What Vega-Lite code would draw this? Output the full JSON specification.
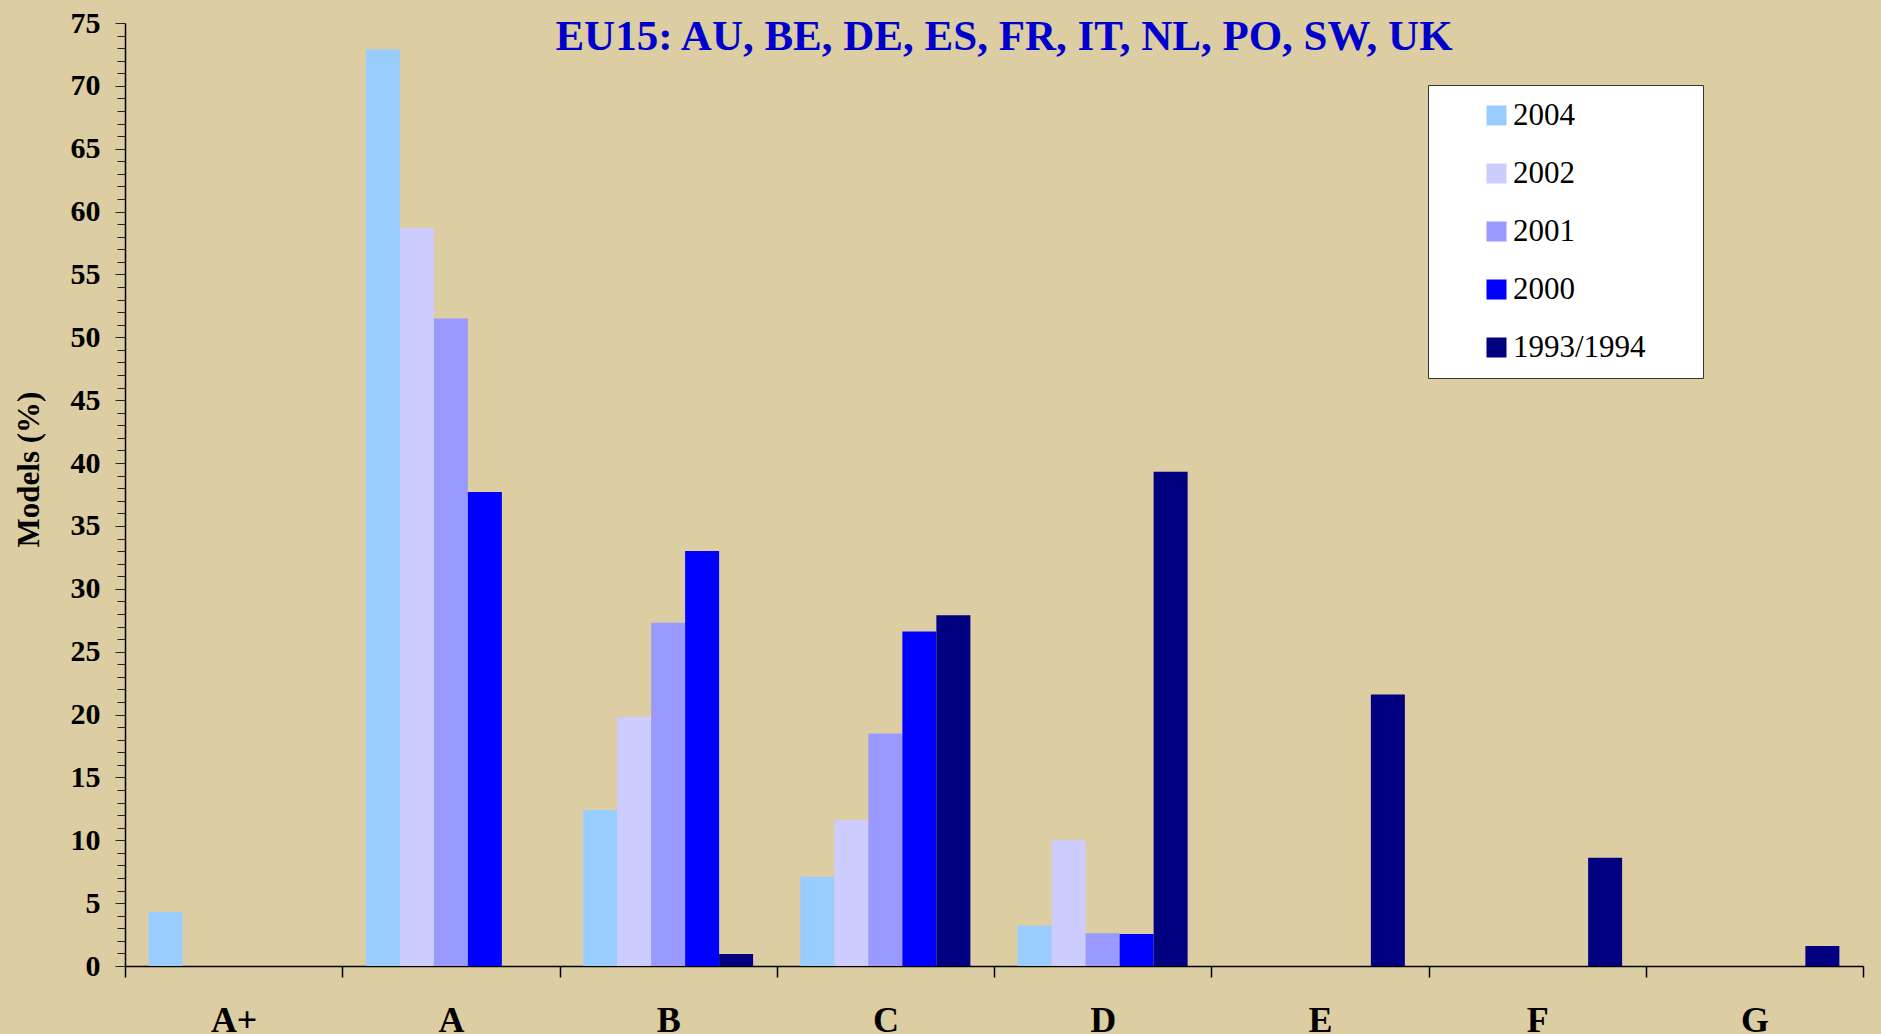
{
  "$schema": "https://vega.github.io/schema/vega-lite/v6.json",
  "width": 1738,
  "height": 943,
  "autosize": {"type": "none"},
  "padding": {"left": 125, "top": 23, "right": 18, "bottom": 68},
  "background": "#DDCDA2",
  "config": {"view": {"stroke": null}, "font": "Liberation Serif"},
  "title": {
    "text": "EU15: AU, BE, DE, ES, FR, IT, NL, PO, SW, UK",
    "font": "Liberation Serif",
    "fontSize": 43,
    "fontWeight": "bold",
    "color": "#0000CC",
    "anchor": "middle",
    "offset": -51,
    "dx": 10
  },
  "data": {
    "values": [
      {"grade": "A+", "year": "2004", "value": 4.3},
      {"grade": "A+", "year": "2002", "value": 0},
      {"grade": "A+", "year": "2001", "value": 0},
      {"grade": "A+", "year": "2000", "value": 0},
      {"grade": "A+", "year": "1993/1994", "value": 0},
      {"grade": "A", "year": "2004", "value": 72.9},
      {"grade": "A", "year": "2002", "value": 58.7},
      {"grade": "A", "year": "2001", "value": 51.5},
      {"grade": "A", "year": "2000", "value": 37.7},
      {"grade": "A", "year": "1993/1994", "value": 0},
      {"grade": "B", "year": "2004", "value": 12.4},
      {"grade": "B", "year": "2002", "value": 19.8},
      {"grade": "B", "year": "2001", "value": 27.3},
      {"grade": "B", "year": "2000", "value": 33.0},
      {"grade": "B", "year": "1993/1994", "value": 0.95},
      {"grade": "C", "year": "2004", "value": 7.1},
      {"grade": "C", "year": "2002", "value": 11.6},
      {"grade": "C", "year": "2001", "value": 18.5},
      {"grade": "C", "year": "2000", "value": 26.6},
      {"grade": "C", "year": "1993/1994", "value": 27.9},
      {"grade": "D", "year": "2004", "value": 3.2},
      {"grade": "D", "year": "2002", "value": 10.0},
      {"grade": "D", "year": "2001", "value": 2.6},
      {"grade": "D", "year": "2000", "value": 2.55},
      {"grade": "D", "year": "1993/1994", "value": 39.3},
      {"grade": "E", "year": "2004", "value": 0},
      {"grade": "E", "year": "2002", "value": 0},
      {"grade": "E", "year": "2001", "value": 0},
      {"grade": "E", "year": "2000", "value": 0},
      {"grade": "E", "year": "1993/1994", "value": 21.6},
      {"grade": "F", "year": "2004", "value": 0},
      {"grade": "F", "year": "2002", "value": 0},
      {"grade": "F", "year": "2001", "value": 0},
      {"grade": "F", "year": "2000", "value": 0},
      {"grade": "F", "year": "1993/1994", "value": 8.6},
      {"grade": "G", "year": "2004", "value": 0},
      {"grade": "G", "year": "2002", "value": 0},
      {"grade": "G", "year": "2001", "value": 0},
      {"grade": "G", "year": "2000", "value": 0},
      {"grade": "G", "year": "1993/1994", "value": 1.6}
    ]
  },
  "mark": {"type": "bar"},
  "encoding": {
    "x": {
      "field": "grade",
      "type": "nominal",
      "sort": ["A+", "A", "B", "C", "D", "E", "F", "G"],
      "scale": {"paddingInner": 0, "paddingOuter": 0},
      "axis": {
        "title": null,
        "tickBand": "extent",
        "labelAngle": 0,
        "labelFont": "Liberation Serif",
        "labelFontSize": 36,
        "labelFontWeight": "bold",
        "labelColor": "black",
        "labelBaseline": "alphabetic",
        "labelPadding": 54,
        "tickSize": 11,
        "tickColor": "black",
        "tickWidth": 1.5,
        "domainColor": "black",
        "domainWidth": 1.5,
        "grid": false
      }
    },
    "xOffset": {
      "field": "year",
      "type": "nominal",
      "sort": ["2004", "2002", "2001", "2000", "1993/1994"],
      "scale": {"paddingInner": 0, "paddingOuter": 0.695}
    },
    "y": {
      "field": "value",
      "type": "quantitative",
      "scale": {"domain": [0, 75], "nice": false},
      "axis": {
        "title": "Models (%)",
        "titleFont": "Liberation Serif",
        "titleFontSize": 31,
        "titleFontWeight": "bold",
        "titleColor": "black",
        "titleAngle": -90,
        "titleX": -96,
        "titleY": 446,
        "titleAlign": "center",
        "titleBaseline": "middle",
        "values": [0,1,2,3,4,5,6,7,8,9,10,11,12,13,14,15,16,17,18,19,20,21,22,23,24,25,26,27,28,29,30,31,32,33,34,35,36,37,38,39,40,41,42,43,44,45,46,47,48,49,50,51,52,53,54,55,56,57,58,59,60,61,62,63,64,65,66,67,68,69,70,71,72,73,74,75],
        "labelExpr": "datum.value % 5 === 0 ? datum.label : ''",
        "labelOverlap": false,
        "labelFont": "Liberation Serif",
        "labelFontSize": 30,
        "labelFontWeight": "bold",
        "labelColor": "black",
        "labelPadding": 15,
        "tickSize": {"condition": {"test": "datum.value % 5 === 0", "value": 10}, "value": 8},
        "tickColor": "#222",
        "domainColor": "black",
        "domainWidth": 1.5,
        "grid": false
      }
    },
    "color": {
      "field": "year",
      "type": "nominal",
      "sort": ["2004", "2002", "2001", "2000", "1993/1994"],
      "scale": {
        "domain": ["2004", "2002", "2001", "2000", "1993/1994"],
        "range": ["#99CCFF", "#CCCCFF", "#9999FF", "#0000FF", "#000080"]
      },
      "legend": {
        "orient": "none",
        "legendX": 1303,
        "legendY": 62,
        "title": "\u2003",
        "titleOrient": "right",
        "titlePadding": 42,
        "titleFontSize": 30,
        "padding": 15,
        "symbolOffset": 38,
        "labelOffset": 1,
        "symbolType": "square",
        "symbolSize": 400,
        "symbolStrokeWidth": 0,
        "labelFont": "Liberation Serif",
        "labelFontSize": 31,
        "labelFontWeight": "normal",
        "labelColor": "black",
        "rowPadding": 26,
        "strokeColor": "#333",
        "fillColor": "white"
      }
    }
  }
}
